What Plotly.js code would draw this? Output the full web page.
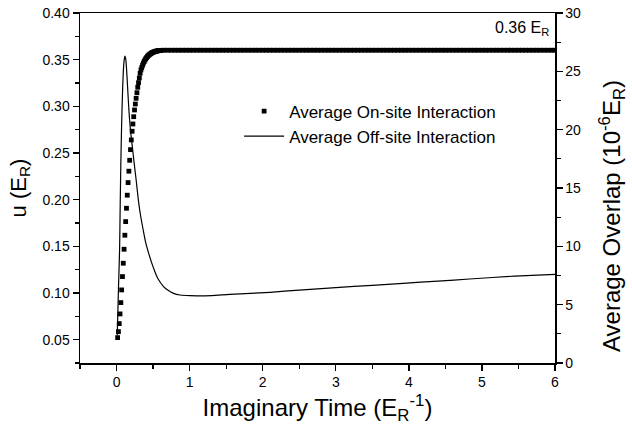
<!DOCTYPE html>
<html>
<head>
<meta charset="utf-8">
<script src="https://cdn.plot.ly/plotly-3.0.1.min.js"></script>
<style>html,body{margin:0;padding:0;background:#fff;}#chart{width:632px;height:434px;}</style>
</head>
<body>
<div id="chart"></div>
<script>
// Average on-site interaction u (E_R) vs imaginary time — rising part (dense markers)
const riseTime = [0.015,0.026,0.037,0.048,0.059,0.070,0.081,0.092,0.103,0.114,0.125,0.136,0.147,0.158,0.169,0.180,0.191,0.202,0.213,0.224,0.235,0.246,0.257,0.268,0.279,0.290,0.301,0.312,0.323,0.334,0.345,0.356,0.367,0.378,0.389,0.400,0.411,0.422,0.433,0.444,0.455,0.466,0.477,0.488,0.499,0.510,0.521,0.532,0.543,0.554,0.565,0.576,0.587,0.598,0.609];
const riseU = [0.0522,0.0586,0.0672,0.0776,0.0897,0.1033,0.1176,0.1319,0.1469,0.1619,0.1765,0.1908,0.2048,0.2183,0.2305,0.2422,0.2536,0.2640,0.2733,0.2811,0.2889,0.2961,0.3025,0.3086,0.3146,0.3204,0.3254,0.3304,0.3354,0.3390,0.3415,0.3440,0.3462,0.3480,0.3496,0.3510,0.3522,0.3533,0.3543,0.3551,0.3558,0.3564,0.3570,0.3575,0.3579,0.3583,0.3586,0.3589,0.3591,0.3593,0.3595,0.3597,0.3598,0.3599,0.3600];
// plateau part
const plateauTime = [0.65,0.70,0.75,0.80,0.85,0.90,0.95,1.00,1.05,1.10,1.15,1.20,1.25,1.30,1.35,1.40,1.45,1.50,1.55,1.60,1.65,1.70,1.75,1.80,1.85,1.90,1.95,2.00,2.05,2.10,2.15,2.20,2.25,2.30,2.35,2.40,2.45,2.50,2.55,2.60,2.65,2.70,2.75,2.80,2.85,2.90,2.95,3.00,3.05,3.10,3.15,3.20,3.25,3.30,3.35,3.40,3.45,3.50,3.55,3.60,3.65,3.70,3.75,3.80,3.85,3.90,3.95,4.00,4.05,4.10,4.15,4.20,4.25,4.30,4.35,4.40,4.45,4.50,4.55,4.60,4.65,4.70,4.75,4.80,4.85,4.90,4.95,5.00,5.05,5.10,5.15,5.20,5.25,5.30,5.35,5.40,5.45,5.50,5.55,5.60,5.65,5.70,5.75,5.80,5.85,5.90,5.95,6.00];
const plateauU = [0.3601,0.3601,0.3601,0.3601,0.3601,0.3601,0.3601,0.3601,0.3601,0.3601,0.3601,0.3601,0.3601,0.3601,0.3601,0.3601,0.3601,0.3601,0.3601,0.3601,0.3601,0.3601,0.3601,0.3601,0.3601,0.3601,0.3601,0.3601,0.3601,0.3601,0.3601,0.3601,0.3601,0.3601,0.3601,0.3601,0.3601,0.3601,0.3601,0.3601,0.3601,0.3601,0.3601,0.3601,0.3601,0.3601,0.3601,0.3601,0.3601,0.3601,0.3601,0.3601,0.3601,0.3601,0.3601,0.3601,0.3601,0.3601,0.3601,0.3601,0.3601,0.3601,0.3601,0.3601,0.3601,0.3601,0.3601,0.3601,0.3601,0.3601,0.3601,0.3601,0.3601,0.3601,0.3601,0.3601,0.3601,0.3601,0.3601,0.3601,0.3601,0.3601,0.3601,0.3601,0.3601,0.3601,0.3601,0.3601,0.3601,0.3601,0.3601,0.3601,0.3601,0.3601,0.3601,0.3601,0.3601,0.3601,0.3601,0.3601,0.3601,0.3601,0.3601,0.3601,0.3601,0.3601,0.3601,0.3601];

// Average off-site interaction (overlap, 10^-6 E_R) vs imaginary time
const offTime = [0.010,0.026,0.042,0.050,0.060,0.070,0.080,0.092,0.103,0.115,0.125,0.135,0.150,0.170,0.190,0.215,0.240,0.270,0.300,0.330,0.365,0.400,0.440,0.480,0.520,0.560,0.600,0.650,0.700,0.780,0.870,1.000,1.100,1.300,1.550,2.100,2.500,3.000,3.500,3.920,4.400,4.830,5.450,6.000];
const offOverlap = [2.4,6.3,9.8,13.5,17.5,20.5,22.8,24.9,25.9,26.3,26.1,25.4,23.8,21.6,20.0,18.6,17.2,15.6,13.9,12.6,11.4,10.3,9.4,8.6,7.9,7.3,6.9,6.5,6.25,5.97,5.83,5.77,5.76,5.78,5.88,6.06,6.25,6.46,6.66,6.83,7.02,7.2,7.45,7.6];

const seriesNames = ["Average On-site Interaction","Average Off-site Interaction"];
const xTicks = [0,1,2,3,4,5,6];
const yTicks = [0.05,0.10,0.15,0.20,0.25,0.30,0.35,0.40];
const y2Ticks = [0,5,10,15,20,25,30];

const FONT = "Liberation Sans, Arial, Helvetica, sans-serif";

const traces = [
  {
    x: riseTime.concat(plateauTime),
    y: riseU.concat(plateauU),
    name: seriesNames[0],
    type: "scatter", mode: "markers",
    marker: {symbol: "square", size: 4.8, color: "#000", line: {width: 0}},
    yaxis: "y"
  },
  {
    x: offTime, y: offOverlap,
    name: seriesNames[1],
    type: "scatter", mode: "lines",
    line: {color: "#000", width: 1.2, shape: "spline", smoothing: 0.6},
    yaxis: "y2"
  }
];

const axisCommon = {
  showline: true, linecolor: "#000", linewidth: 1.5,
  ticks: "outside", ticklen: 6, tickwidth: 1.3, tickcolor: "#000",
  showgrid: false, zeroline: false,
  tickfont: {family: FONT, size: 14, color: "#000"}
};

const layout = {
  width: 632, height: 434,
  margin: {l: 80, r: 77, t: 13, b: 71},
  paper_bgcolor: "#fff", plot_bgcolor: "#fff",
  font: {family: FONT, color: "#000"},
  showlegend: true,
  legend: {
    x: 0.335, y: 0.77, xanchor: "left", yanchor: "top",
    bgcolor: "rgba(0,0,0,0)", borderwidth: 0,
    font: {family: FONT, size: 17, color: "#000"},
    itemwidth: 40, tracegroupgap: 0
  },
  xaxis: Object.assign({}, axisCommon, {
    range: [-0.5, 6], tickvals: xTicks, ticktext: xTicks.map(String),
    mirror: true,
    minor: {dtick: 0.5, tick0: 0, ticks: "outside", ticklen: 4, tickwidth: 1.2, tickcolor: "#000"},
    title: {text: "Imaginary Time (E<sub>R</sub><sup>-1</sup>)", font: {family: FONT, size: 24, color: "#000"}, standoff: 10}
  }),
  yaxis: Object.assign({}, axisCommon, {
    range: [0.025, 0.40], tickvals: yTicks, ticktext: yTicks.map(v => v.toFixed(2)),
    minor: {dtick: 0.025, tick0: 0, ticks: "outside", ticklen: 4, tickwidth: 1.2, tickcolor: "#000"},
    title: {text: "u (E<sub>R</sub>)", font: {family: FONT, size: 22, color: "#000"}, standoff: 10}
  }),
  yaxis2: Object.assign({}, axisCommon, {
    overlaying: "y", side: "right",
    range: [0, 30], tickvals: y2Ticks, ticktext: y2Ticks.map(String),
    minor: {dtick: 2.5, tick0: 0, ticks: "outside", ticklen: 4, tickwidth: 1.2, tickcolor: "#000"},
    title: {text: ""}
  }),
  annotations: [
    {
      xref: "x", yref: "y", x: 6, y: 0.383, xanchor: "right", yanchor: "middle",
      text: "0.36 E<sub>R</sub>", showarrow: false,
      font: {family: FONT, size: 16, color: "#000"}, xshift: -4
    },
    {
      xref: "paper", yref: "paper", x: 1.12, y: 0.42, xanchor: "center", yanchor: "middle",
      text: "Average Overlap (10<sup>-6</sup>E<sub>R</sub>)", textangle: -90, showarrow: false,
      font: {family: FONT, size: 24, color: "#000"}
    }
  ]
};

Plotly.newPlot("chart", traces, layout, {staticPlot: true, displayModeBar: false});
</script>
</body>
</html>
